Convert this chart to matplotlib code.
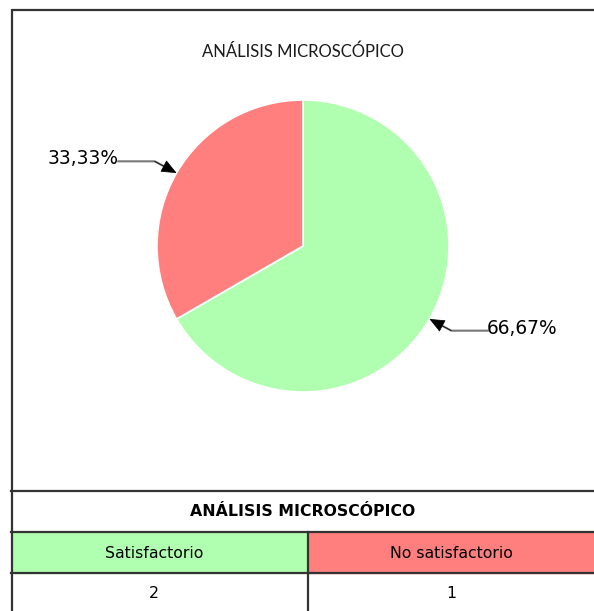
import numpy as np
import matplotlib
matplotlib.use("Agg")
import matplotlib.pyplot as plt

title = "ANÁLISIS MICROSCÓPICO"
categories = ["Satisfactorio", "No satisfactorio"]
counts = [2, 1]
colors = ["#b0ffb0", "#ff7f7f"]

W, H = 594, 611
fig = plt.figure(figsize=(W / 100, H / 100), dpi=100)

# overlay axes in pixel coordinates for frame and table
ov = fig.add_axes([0, 0, 1, 1])
ov.set_xlim(0, W)
ov.set_ylim(H, 0)
ov.axis("off")

lc = "#333333"
lw = 1.6
# frame
ov.plot([11.5, W], [9.5, 9.5], color=lc, lw=lw, solid_capstyle="butt")
ov.plot([11.5, 11.5], [9, H], color=lc, lw=lw, solid_capstyle="butt")
# table rows
for y in [491, 532, 573]:
    ov.plot([11, W], [y, y], color=lc, lw=lw, zorder=3)
ov.plot([308, 308], [532, H], color=lc, lw=lw, zorder=3)
# header fills
ov.add_patch(plt.Rectangle((12, 532), 296, 41, color=colors[0], zorder=1))
ov.add_patch(plt.Rectangle((308, 532), W - 308, 41, color=colors[1], zorder=1))

ov.text(302.5, 512, title, ha="center", va="center", fontsize=11.3,
        fontweight="bold", family="DejaVu Sans")
col_x = [154, 451]
for cx, cat, val in zip(col_x, categories, counts):
    ov.text(cx, 553, cat, ha="center", va="center", fontsize=11.3, family="DejaVu Sans")
    ov.text(cx, 594, str(val), ha="center", va="center", fontsize=11.3, family="DejaVu Sans")

ov.text(303, 52, title, ha="center", va="center", fontsize=12, family="Lato",
        fontweight="normal", color="#1a1a1a")

# pie axes
cx, cy, r = 303, 246, 146
ax = fig.add_axes([(cx - r) / W, (H - cy - r) / H, 2 * r / W, 2 * r / H])
wedges, _ = ax.pie(counts, colors=colors, startangle=90, counterclock=False,
                   wedgeprops=dict(edgecolor="white", linewidth=1.2))
ax.set_xlim(-1, 1)
ax.set_ylim(-1, 1)
ax.set_aspect("equal")
ax.axis("off")

total = sum(counts)
for w, v in zip(wedges, counts):
    ang = np.deg2rad((w.theta1 + w.theta2) / 2)
    px, py = np.cos(ang), np.sin(ang)
    s = 1 if px > 0 else -1
    ex, ey = px + s * 0.15, py - s * 0.08
    tx = s * 1.265
    pct = f"{100 * v / total:.2f}%".replace(".", ",")
    ax.plot([tx, ex, px - (px - ex) * 0.3], [ey, ey, py - (py - ey) * 0.3],
            color="#777777", lw=1.5, clip_on=False)
    ax.annotate("", xy=(px, py), xytext=(ex, ey),
                arrowprops=dict(arrowstyle="-|>,head_length=0.7,head_width=0.3",
                                color="black", lw=0.5,
                                mutation_scale=14, shrinkA=0, shrinkB=0),
                annotation_clip=False)
    ax.text(tx - s * 0.005, ey + 0.018, pct, ha="left" if s > 0 else "right",
            va="center", fontsize=13.4, family="DejaVu Sans", clip_on=False)

fig.savefig("out.png", dpi=100)
